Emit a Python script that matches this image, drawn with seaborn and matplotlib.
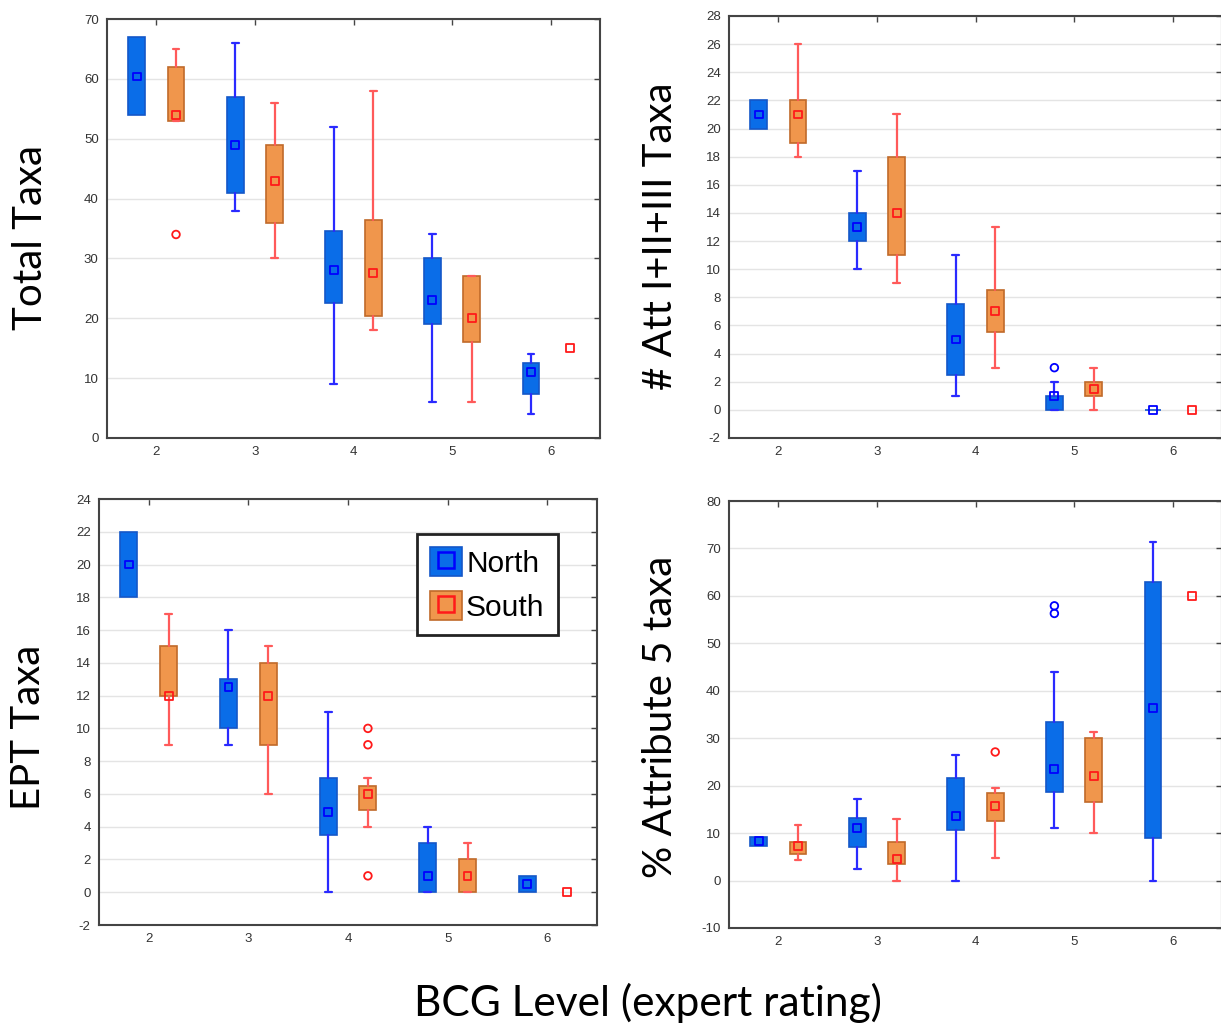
import matplotlib
matplotlib.use("Agg")
import matplotlib.pyplot as plt
import seaborn as sns
from matplotlib.patches import Patch
from matplotlib.lines import Line2D

sns.set_theme(style="white")
plt.rcParams["font.family"] = ["Liberation Sans", "DejaVu Sans"]
plt.rcParams["axes.unicode_minus"] = False

levels = [2, 3, 4, 5, 6]

# (whisker low, q1, median, q3, whisker high) per BCG level; 1-tuple = single site
total_north = [(54, 54, 60.4, 67, 67), (38, 41, 49, 57, 66), (9, 22.5, 28, 34.5, 52),
               (6, 19, 23, 30, 34), (4, 7.4, 11, 12.5, 14)]
total_south = [(53, 53, 54, 62, 65), (30, 36, 43, 49, 56), (18, 20.4, 27.5, 36.5, 58),
               (6, 16, 20, 27, 27), (15,)]
total_north_out = []
total_south_out = [(2, 34)]

att_north = [(20, 20, 21, 22, 22), (10, 12, 13, 14, 17), (1, 2.5, 5, 7.5, 11),
             (0, 0, 1, 1, 2), (0, 0, 0, 0, 0)]
att_south = [(18, 19, 21, 22, 26), (9, 11, 14, 18, 21), (3, 5.5, 7, 8.5, 13),
             (0, 1, 1.5, 2, 3), (0,)]
att_north_out = [(5, 3)]
att_south_out = []

ept_north = [(18, 18, 20, 22, 22), (9, 10, 12.5, 13, 16), (0, 3.5, 4.9, 7, 11),
             (0, 0, 1, 3, 4), (0, 0, 0.5, 1, 1)]
ept_south = [(9, 12, 12, 15, 17), (6, 9, 12, 14, 15), (4, 5, 6, 6.5, 7),
             (0, 0, 1, 2, 3), (0,)]
ept_north_out = []
ept_south_out = [(4, 10), (4, 9), (4, 1)]

att5_north = [(7.3, 7.3, 8.3, 9.2, 9.2), (2.4, 7.1, 11, 13.1, 17.1), (0, 10.6, 13.6, 21.6, 26.4),
              (11, 18.7, 23.5, 33.4, 43.9), (0, 8.9, 36.3, 63, 71.4)]
att5_south = [(4.4, 5.5, 7.3, 8.2, 11.8), (0, 3.4, 4.5, 8.2, 12.9), (4.8, 12.5, 15.7, 18.5, 19.6),
              (10, 16.6, 22.1, 30.1, 31.3), (60,)]
att5_north_out = [(5, 57.9), (5, 56.3)]
att5_south_out = [(4, 27.1)]

N_FACE, N_EDGE, N_LINE, N_MARK = "#0a6de8", "#1457c8", "#2a2aff", "#0000ff"
S_FACE, S_EDGE, S_LINE, S_MARK = "#f0964c", "#c06a2a", "#ff5a5a", "#ff1a1a"
OFF = 0.2


def draw_series(ax, stats_list, outliers, sign, face, edge, line, mark):
    stats, pos, caps, med_x, med_y = [], [], [], [], []
    for lvl, st in zip(levels, stats_list):
        x = lvl + sign * OFF
        if len(st) == 5:
            lo, q1, md, q3, hi = st
            stats.append(dict(whislo=lo, q1=q1, med=md, q3=q3, whishi=hi, fliers=[]))
            pos.append(x)
            # no caps when the box spans the full range
            caps.append(0.0 if (lo == q1 and hi == q3) else 0.07)
            md_val = md
        else:
            md_val = st[0]
        med_x.append(x)
        med_y.append(md_val)
    ax.bxp(stats, positions=pos, widths=0.17, patch_artist=True, showfliers=False,
           boxprops=dict(facecolor=face, edgecolor=edge, linewidth=1.2),
           whiskerprops=dict(color=line, linewidth=1.6),
           capprops=dict(color=line, linewidth=1.6),
           medianprops=dict(visible=False), capwidths=caps, manage_ticks=False)
    sns.scatterplot(x=med_x, y=med_y, marker="s", s=32, facecolor="none",
                    edgecolor=mark, linewidth=1.3, ax=ax, zorder=5)
    if outliers:
        sns.scatterplot(x=[o[0] + sign * OFF for o in outliers], y=[o[1] for o in outliers],
                        marker="o", s=30, facecolor="none", edgecolor=mark,
                        linewidth=1.3, ax=ax, zorder=5)


W, H = 1221, 1025
fig = plt.figure(figsize=(W / 100, H / 100), dpi=100)

panels = [
    ((107, 600, 19, 438), total_north, total_south, total_north_out, total_south_out,
     (0, 70), range(0, 71, 10), "Total Taxa", (31, 237)),
    ((729, 1222, 16, 438), att_north, att_south, att_north_out, att_south_out,
     (-2, 28), range(-2, 29, 2), "# Att I+II+III Taxa", (660, 236)),
    ((99, 597, 499, 925), ept_north, ept_south, ept_north_out, ept_south_out,
     (-2, 24), range(-2, 25, 2), "EPT Taxa", (28, 727)),
    ((729, 1222, 501, 928), att5_north, att5_south, att5_north_out, att5_south_out,
     (-10, 80), range(-10, 81, 10), "% Attribute 5 taxa", (661, 717)),
]

axes = []
for (l, r, t, b), north, south, nout, sout, ylim, yticks, ylabel, lpos in panels:
    ax = fig.add_axes([l / W, 1 - b / H, (r - l) / W, (b - t) / H])
    ax.yaxis.grid(True, color="#e4e4e4", linewidth=1)
    ax.set_axisbelow(True)
    draw_series(ax, north, nout, -1, N_FACE, N_EDGE, N_LINE, N_MARK)
    draw_series(ax, south, sout, 1, S_FACE, S_EDGE, S_LINE, S_MARK)
    ax.set_xlim(1.5, 6.5)
    ax.set_ylim(*ylim)
    ax.set_xticks(levels)
    ax.set_xticklabels([str(v) for v in levels])
    ax.set_yticks(list(yticks))
    ax.tick_params(direction="in", length=4, width=1, color="#444444", labelsize=9.5,
                   labelcolor="#333333", top=True, right=True, pad=6)
    for sp in ax.spines.values():
        sp.set_color("#444444")
        sp.set_linewidth(1.5)
    fig.text(lpos[0] / W, 1 - lpos[1] / H, ylabel, rotation=90, ha="center", va="center",
             fontsize=29, family=["Lato", "DejaVu Sans"], color="black")
    axes.append(ax)

handles = [(Patch(facecolor=N_FACE, edgecolor=N_EDGE, linewidth=1.2),
            Line2D([], [], marker="s", linestyle="none", markersize=11, markerfacecolor="none",
                   markeredgecolor=N_MARK, markeredgewidth=1.8)),
           (Patch(facecolor=S_FACE, edgecolor=S_EDGE, linewidth=1.2),
            Line2D([], [], marker="s", linestyle="none", markersize=11, markerfacecolor="none",
                   markeredgecolor=S_MARK, markeredgewidth=1.8))]
leg = axes[2].legend(handles, ["North", "South"], loc="upper right",
                     bbox_to_anchor=((558 - 99) / 498, (925 - 534) / 426), borderaxespad=0,
                     fontsize=21.5, handlelength=1.05, handleheight=1.1, handletextpad=0.15,
                     labelspacing=0.45, borderpad=0.45, fancybox=False, framealpha=1,
                     edgecolor="#222222", labelcolor="black")
leg.get_frame().set_linewidth(2)

fig.text(648 / W, 1 - 1003 / H, "BCG Level (expert rating)", ha="center", va="center",
         fontsize=30.5, family=["Lato", "DejaVu Sans"], color="black")

fig.savefig("out.png", dpi=100)
